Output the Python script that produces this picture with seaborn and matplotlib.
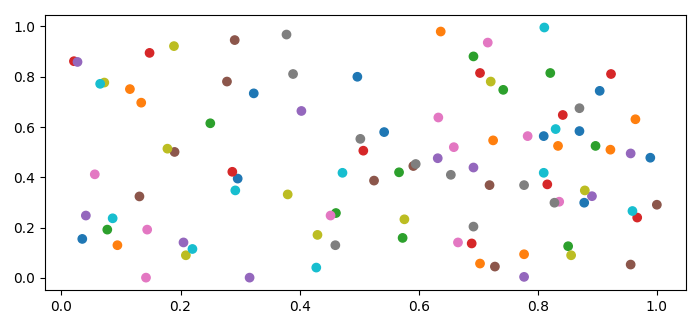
import matplotlib
matplotlib.use("Agg")
import matplotlib.pyplot as plt
import seaborn as sns
import pandas as pd

series_names = ["C0", "C1", "C2", "C3", "C4", "C5", "C6", "C7", "C8", "C9"]

x_blue = [0.323, 0.296, 0.035, 0.497, 0.542, 0.904, 0.810, 0.870, 0.989, 0.878]
y_blue = [0.734, 0.395, 0.155, 0.800, 0.580, 0.744, 0.564, 0.584, 0.478, 0.299]

x_orange = [0.115, 0.134, 0.094, 0.637, 0.964, 0.725, 0.834, 0.922, 0.777, 0.703]
y_orange = [0.751, 0.697, 0.130, 0.980, 0.631, 0.547, 0.525, 0.510, 0.094, 0.057]

x_green = [0.250, 0.077, 0.567, 0.461, 0.573, 0.692, 0.742, 0.821, 0.897, 0.851]
y_green = [0.615, 0.192, 0.420, 0.258, 0.159, 0.881, 0.748, 0.815, 0.525, 0.126]

x_red = [0.021, 0.148, 0.287, 0.507, 0.703, 0.923, 0.842, 0.816, 0.967, 0.689]
y_red = [0.862, 0.895, 0.422, 0.506, 0.815, 0.811, 0.648, 0.372, 0.240, 0.137]

x_purple = [0.027, 0.041, 0.205, 0.316, 0.403, 0.632, 0.956, 0.692, 0.891, 0.777]
y_purple = [0.859, 0.248, 0.141, 0.001, 0.664, 0.476, 0.495, 0.439, 0.325, 0.004]

x_brown = [0.291, 0.278, 0.190, 0.131, 0.525, 0.591, 0.719, 1.000, 0.728, 0.956]
y_brown = [0.946, 0.781, 0.501, 0.324, 0.387, 0.445, 0.369, 0.291, 0.045, 0.053]

x_pink = [0.056, 0.144, 0.142, 0.633, 0.659, 0.452, 0.666, 0.716, 0.783, 0.836]
y_pink = [0.412, 0.192, 0.001, 0.638, 0.520, 0.248, 0.141, 0.936, 0.564, 0.303]

x_gray = [0.378, 0.389, 0.502, 0.595, 0.654, 0.460, 0.870, 0.777, 0.828, 0.692]
y_gray = [0.968, 0.811, 0.553, 0.453, 0.410, 0.130, 0.675, 0.369, 0.299, 0.204]

x_olive = [0.189, 0.072, 0.178, 0.209, 0.380, 0.430, 0.576, 0.721, 0.879, 0.856]
y_olive = [0.922, 0.777, 0.514, 0.090, 0.332, 0.171, 0.233, 0.781, 0.348, 0.090]

x_cyan = [0.065, 0.292, 0.086, 0.220, 0.472, 0.428, 0.811, 0.830, 0.810, 0.959]
y_cyan = [0.772, 0.348, 0.237, 0.115, 0.418, 0.041, 0.996, 0.592, 0.418, 0.266]

xs = [x_blue, x_orange, x_green, x_red, x_purple, x_brown, x_pink, x_gray, x_olive, x_cyan]
ys = [y_blue, y_orange, y_green, y_red, y_purple, y_brown, y_pink, y_gray, y_olive, y_cyan]

frames = []
for name, xv, yv in zip(series_names, xs, ys):
    frames.append(pd.DataFrame({"x": xv, "y": yv, "series": name}))
df = pd.concat(frames, ignore_index=True)

fig = plt.figure(figsize=(7.0, 3.26), dpi=100)
ax = fig.add_axes([0.064, 0.110, 0.916, 0.844])
palette = dict(zip(series_names, sns.color_palette("tab10", 10)))
sns.scatterplot(data=df, x="x", y="y", hue="series", palette=palette,
                hue_order=series_names, s=36, linewidth=1.0, edgecolor="face",
                legend=False, ax=ax)
ax.set_xlabel("")
ax.set_ylabel("")
ax.set_xticks([0.0, 0.2, 0.4, 0.6, 0.8, 1.0])
ax.set_yticks([0.0, 0.2, 0.4, 0.6, 0.8, 1.0])
fig.savefig("out.png", dpi=100)
